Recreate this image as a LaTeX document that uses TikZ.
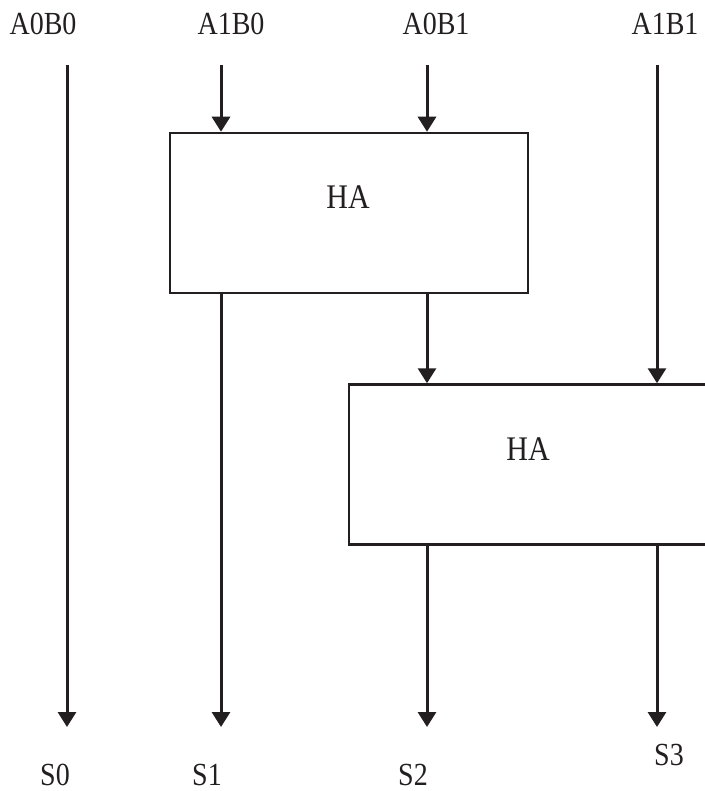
\documentclass[tikz,border=0pt]{standalone}
\usepackage{fontspec}
\setmainfont{Liberation Serif}
\usetikzlibrary{arrows.meta}
\definecolor{ink}{HTML}{231F20}
\newcommand{\tall}[1]{\scalebox{1}[1.15]{#1}}
\begin{document}
\begin{tikzpicture}[x=1pt,y=-1pt,
  wire/.style={draw=ink,line width=3pt,-{Triangle[length=15pt,width=18pt]}},
  habox/.style={draw=ink,line width=2.5pt,fill=white,inner sep=0pt},
  lbl/.style={text=ink,inner sep=0pt,font=\fontsize{28}{28}\selectfont},
  halbl/.style={text=ink,inner sep=0pt,font=\fontsize{30}{30}\selectfont}]
\useasboundingbox (0,0) rectangle (704,791);
% boxes
\node[habox,minimum width=358pt,minimum height=160pt] (ha1) at (349,213) {};
\node[habox,minimum width=371pt,minimum height=160pt] (ha2) at (534.5,464.5) {};
\node[halbl] (ha1t) at (348,197) {\tall{HA}};
\node[halbl] (ha2t) at (528,449) {\tall{HA}};
% input labels
\node[lbl] (a0b0) at (43,24) {\tall{A0B0}};
\node[lbl] (a1b0) at (231,24) {\tall{A1B0}};
\node[lbl] (a0b1) at (436,24) {\tall{A0B1}};
\node[lbl] (a1b1) at (665,24) {\tall{A1B1}};
% output labels
\node[lbl] (s0) at (55,775) {\tall{S0}};
\node[lbl] (s1) at (207,775) {\tall{S1}};
\node[lbl] (s2) at (413,775) {\tall{S2}};
\node[lbl] (s3) at (669,755) {\tall{S3}};
% wire coordinates
\coordinate (t0) at (67,65);
\coordinate (t1) at (221,65);
\coordinate (t2) at (427,65);
\coordinate (t3) at (657,65);
\coordinate (b0) at (67,727);
\coordinate (b1) at (221,727);
\coordinate (b2) at (427,727);
\coordinate (b3) at (657,727);
% wires
\draw[wire] (t0) -- (b0);
\draw[wire] (t1) -- (t1 |- ha1.north);
\draw[wire] (t2) -- (t2 |- ha1.north);
\draw[wire] (t1 |- ha1.south) -- (b1);
\draw[wire] (t2 |- ha1.south) -- (t2 |- ha2.north);
\draw[wire] (t3) -- (t3 |- ha2.north);
\draw[wire] (b2 |- ha2.south) -- (b2);
\draw[wire] (b3 |- ha2.south) -- (b3);
\end{tikzpicture}
\end{document}
